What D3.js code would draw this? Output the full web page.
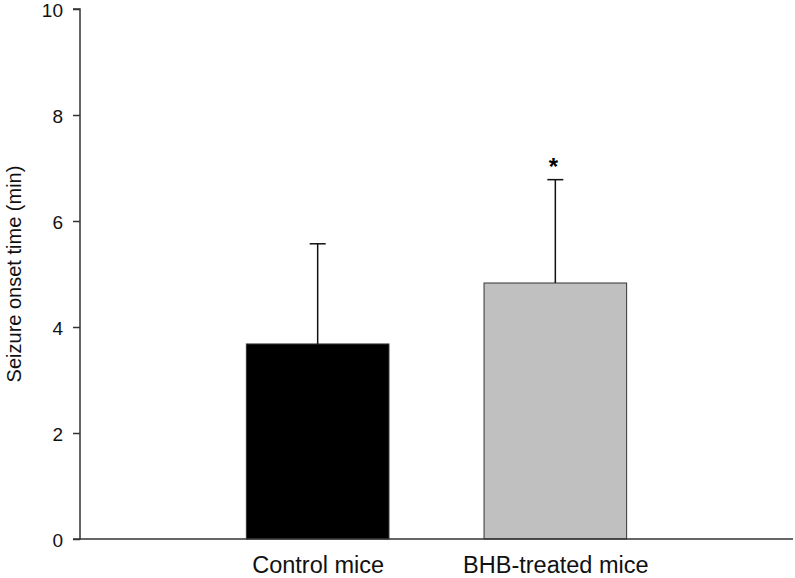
<!DOCTYPE html>
<html><head><meta charset="utf-8">
<script src="https://cdn.jsdelivr.net/npm/d3@7"></script>
<style>body{margin:0;background:#fff;} text{font-family:Arial,"Liberation Sans",sans-serif;}</style>
</head><body>
<svg id="c" width="795" height="578"></svg>
<script>
const categories = ["Control mice", "BHB-treated mice"];
const means = [3.68, 4.83];
const errors = [1.89, 1.95];
const significance = ["", "*"];
const barColors = ["#000000", "#c0c0c0"];
const yTicks = [0, 2, 4, 6, 8, 10];
const yLabel = "Seizure onset time (min)";

const svg = d3.select("#c");
const mLeft = 80, mRight = 793, mTop = 9, mBottom = 539;
const y = d3.scaleLinear().domain([0, 10]).range([mBottom, mTop]);
const x = d3.scalePoint().domain(categories).range([mLeft, mRight]).padding(1);
const bw = x.step() * 0.6;

// bars
svg.selectAll("rect.bar").data(categories).enter().append("rect")
  .attr("x", d => x(d) - bw / 2)
  .attr("y", (d, i) => y(means[i]))
  .attr("width", bw)
  .attr("height", (d, i) => y(0) - y(means[i]))
  .attr("fill", (d, i) => barColors[i])
  .attr("stroke", "#333").attr("stroke-width", 1);

// error bars
const eb = svg.append("g").attr("stroke", "#111").attr("stroke-width", 1.5);
categories.forEach((c, i) => {
  eb.append("line").attr("x1", x(c)).attr("x2", x(c))
    .attr("y1", y(means[i])).attr("y2", y(means[i] + errors[i]));
  eb.append("line").attr("x1", x(c) - 8).attr("x2", x(c) + 8)
    .attr("y1", y(means[i] + errors[i])).attr("y2", y(means[i] + errors[i]));
  if (significance[i]) {
    svg.append("text").attr("x", x(c) - 2).attr("y", y(means[i] + errors[i]) - 5)
      .attr("text-anchor", "middle").attr("font-size", 24).attr("font-weight", "bold")
      .text(significance[i]);
  }
});

// y axis
const yAxis = svg.append("g").attr("transform", `translate(${mLeft},0)`)
  .call(d3.axisLeft(y).tickValues(yTicks).tickSize(7).tickPadding(10).tickFormat(d3.format("d")));
yAxis.selectAll("path,line").attr("stroke", "#333").attr("stroke-width", 1.5);
yAxis.select(".domain").attr("d", `M-7,${mTop}H0V${mBottom}H-7`);
yAxis.selectAll("text").attr("font-size", 19).attr("fill", "#111").attr("dy", "0.38em")
  .attr("font-family", "Arial, 'Liberation Sans', sans-serif");

// x axis
const xAxis = svg.append("g").attr("transform", `translate(0,${mBottom})`)
  .call(d3.axisBottom(x).tickSize(0));
xAxis.select(".domain").attr("stroke", "#333").attr("stroke-width", 1.5).attr("d", `M${mLeft},0H${mRight}`);
xAxis.selectAll("text").attr("font-size", 23.5).attr("fill", "#111")
  .attr("y", 34).attr("dy", 0)
  .attr("font-family", "Arial, 'Liberation Sans', sans-serif");

// y label
svg.append("text").attr("transform", `translate(21,${(mTop + mBottom) / 2}) rotate(-90)`)
  .attr("text-anchor", "middle").attr("font-size", 20).attr("fill", "#111").text(yLabel);
</script>
</body></html>
